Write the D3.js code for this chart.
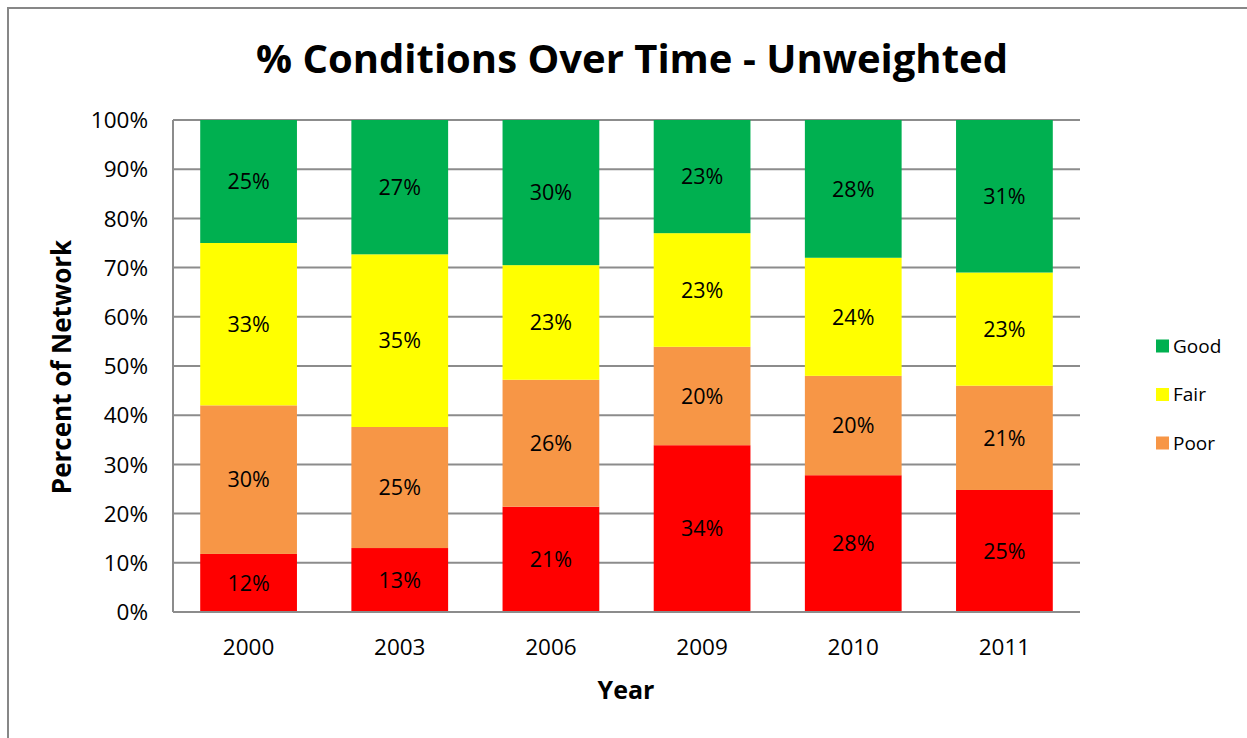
<!DOCTYPE html>
<html lang="en">
<head>
    <meta charset="UTF-8">
    <title>% Conditions Over Time - Unweighted</title>
    <script src="https://cdnjs.cloudflare.com/ajax/libs/d3/7.8.5/d3.min.js"></script>
    <style>
        body { margin: 0; background: #fff; }
        svg text { font-family: "Open Sans", "Noto Sans", sans-serif; }
    </style>
</head>
<body>
<svg width="1247" height="738"></svg>

<script>
    // chart data (percent of network)
    const years = ["2000", "2003", "2006", "2009", "2010", "2011"];
    const veryPoor = [11.8, 13.0, 21.4, 33.9, 27.8, 24.8];
    const poor     = [30.2, 24.6, 25.8, 20.0, 20.2, 21.2];
    const fair     = [33.0, 35.1, 23.3, 23.1, 24.0, 23.0];
    const good     = [25.0, 27.3, 29.5, 23.0, 28.0, 31.0];
    const yTicks = [0, 10, 20, 30, 40, 50, 60, 70, 80, 90, 100];

    const seriesNames = ["Very Poor", "Poor", "Fair", "Good"];
    const seriesColors = ["#ff0000", "#f79646", "#ffff00", "#00b050"];
    const legendNames = ["Good", "Fair", "Poor"];

    const svg = d3.select("svg");

    // chart frame
    svg.append("path")
        .attr("d", "M8,738 V8 H1247")
        .attr("fill", "none")
        .attr("stroke", "#878787")
        .attr("stroke-width", 2);

    const plotLeft = 173, plotRight = 1080, plotTop = 120, plotBottom = 612;

    const x = d3.scaleBand()
        .domain(years)
        .range([plotLeft, plotRight])
        .paddingInner(0.36)
        .paddingOuter(0.18);

    const y = d3.scaleLinear()
        .domain([0, 100])
        .range([plotBottom, plotTop]);

    // gridlines
    svg.append("g")
        .selectAll("line")
        .data(yTicks)
        .join("line")
        .attr("x1", plotLeft)
        .attr("x2", plotRight)
        .attr("y1", d => y(d))
        .attr("y2", d => y(d))
        .attr("stroke", "#8c8c8c")
        .attr("stroke-width", 2);

    // stack the series
    const rows = years.map((yr, i) => ({
        year: yr,
        "Very Poor": veryPoor[i], "Poor": poor[i], "Fair": fair[i], "Good": good[i]
    }));
    const stacked = d3.stack().keys(seriesNames)(rows);

    const layers = svg.append("g")
        .selectAll("g")
        .data(stacked)
        .join("g")
        .attr("fill", (d, i) => seriesColors[i]);

    layers.selectAll("rect")
        .data(d => d)
        .join("rect")
        .attr("x", d => x(d.data.year))
        .attr("width", x.bandwidth())
        .attr("y", d => y(d[1]))
        .attr("height", d => y(d[0]) - y(d[1]));

    layers.selectAll("text")
        .data(d => d)
        .join("text")
        .attr("x", d => x(d.data.year) + x.bandwidth() / 2)
        .attr("y", d => (y(d[0]) + y(d[1])) / 2)
        .attr("dy", "0.36em")
        .attr("text-anchor", "middle")
        .attr("fill", "#000")
        .attr("font-size", 21.5)
        .text(d => Math.round(d[1] - d[0]) + "%");

    // axes lines
    svg.append("line")
        .attr("x1", plotLeft).attr("x2", plotLeft)
        .attr("y1", plotTop).attr("y2", plotBottom)
        .attr("stroke", "#8c8c8c").attr("stroke-width", 2);
    svg.append("line")
        .attr("x1", plotLeft).attr("x2", plotRight)
        .attr("y1", plotBottom).attr("y2", plotBottom)
        .attr("stroke", "#8c8c8c").attr("stroke-width", 2);

    // y tick labels
    svg.append("g")
        .selectAll("text")
        .data(yTicks)
        .join("text")
        .attr("x", 148)
        .attr("y", d => y(d))
        .attr("dy", "0.36em")
        .attr("text-anchor", "end")
        .attr("font-size", 22.5)
        .text(d => d + "%");

    // x tick labels
    svg.append("g")
        .selectAll("text")
        .data(years)
        .join("text")
        .attr("x", d => x(d) + x.bandwidth() / 2)
        .attr("y", 647)
        .attr("dy", "0.36em")
        .attr("text-anchor", "middle")
        .attr("font-size", 22.5)
        .text(d => d);

    // titles
    svg.append("text")
        .attr("x", 632)
        .attr("y", 59)
        .attr("dy", "0.36em")
        .attr("text-anchor", "middle")
        .attr("font-size", 40)
        .attr("font-weight", "bold")
        .text("% Conditions Over Time - Unweighted");

    svg.append("text")
        .attr("x", 626)
        .attr("y", 690)
        .attr("dy", "0.36em")
        .attr("text-anchor", "middle")
        .attr("font-size", 25)
        .attr("font-weight", "bold")
        .text("Year");

    svg.append("text")
        .attr("transform", "translate(62,367) rotate(-90)")
        .attr("dy", "0.36em")
        .attr("text-anchor", "middle")
        .attr("font-size", 26)
        .attr("font-weight", "bold")
        .text("Percent of Network");

    // legend
    const legend = svg.append("g")
        .selectAll("g")
        .data(legendNames)
        .join("g")
        .attr("transform", (d, i) => `translate(1156,${346 + i * 48.5})`);

    legend.append("rect")
        .attr("x", 0)
        .attr("y", -6.5)
        .attr("width", 13)
        .attr("height", 13)
        .attr("fill", d => seriesColors[seriesNames.indexOf(d)]);

    legend.append("text")
        .attr("x", 17)
        .attr("dy", "0.36em")
        .attr("font-size", 19)
        .text(d => d);
</script>
</body>
</html>
